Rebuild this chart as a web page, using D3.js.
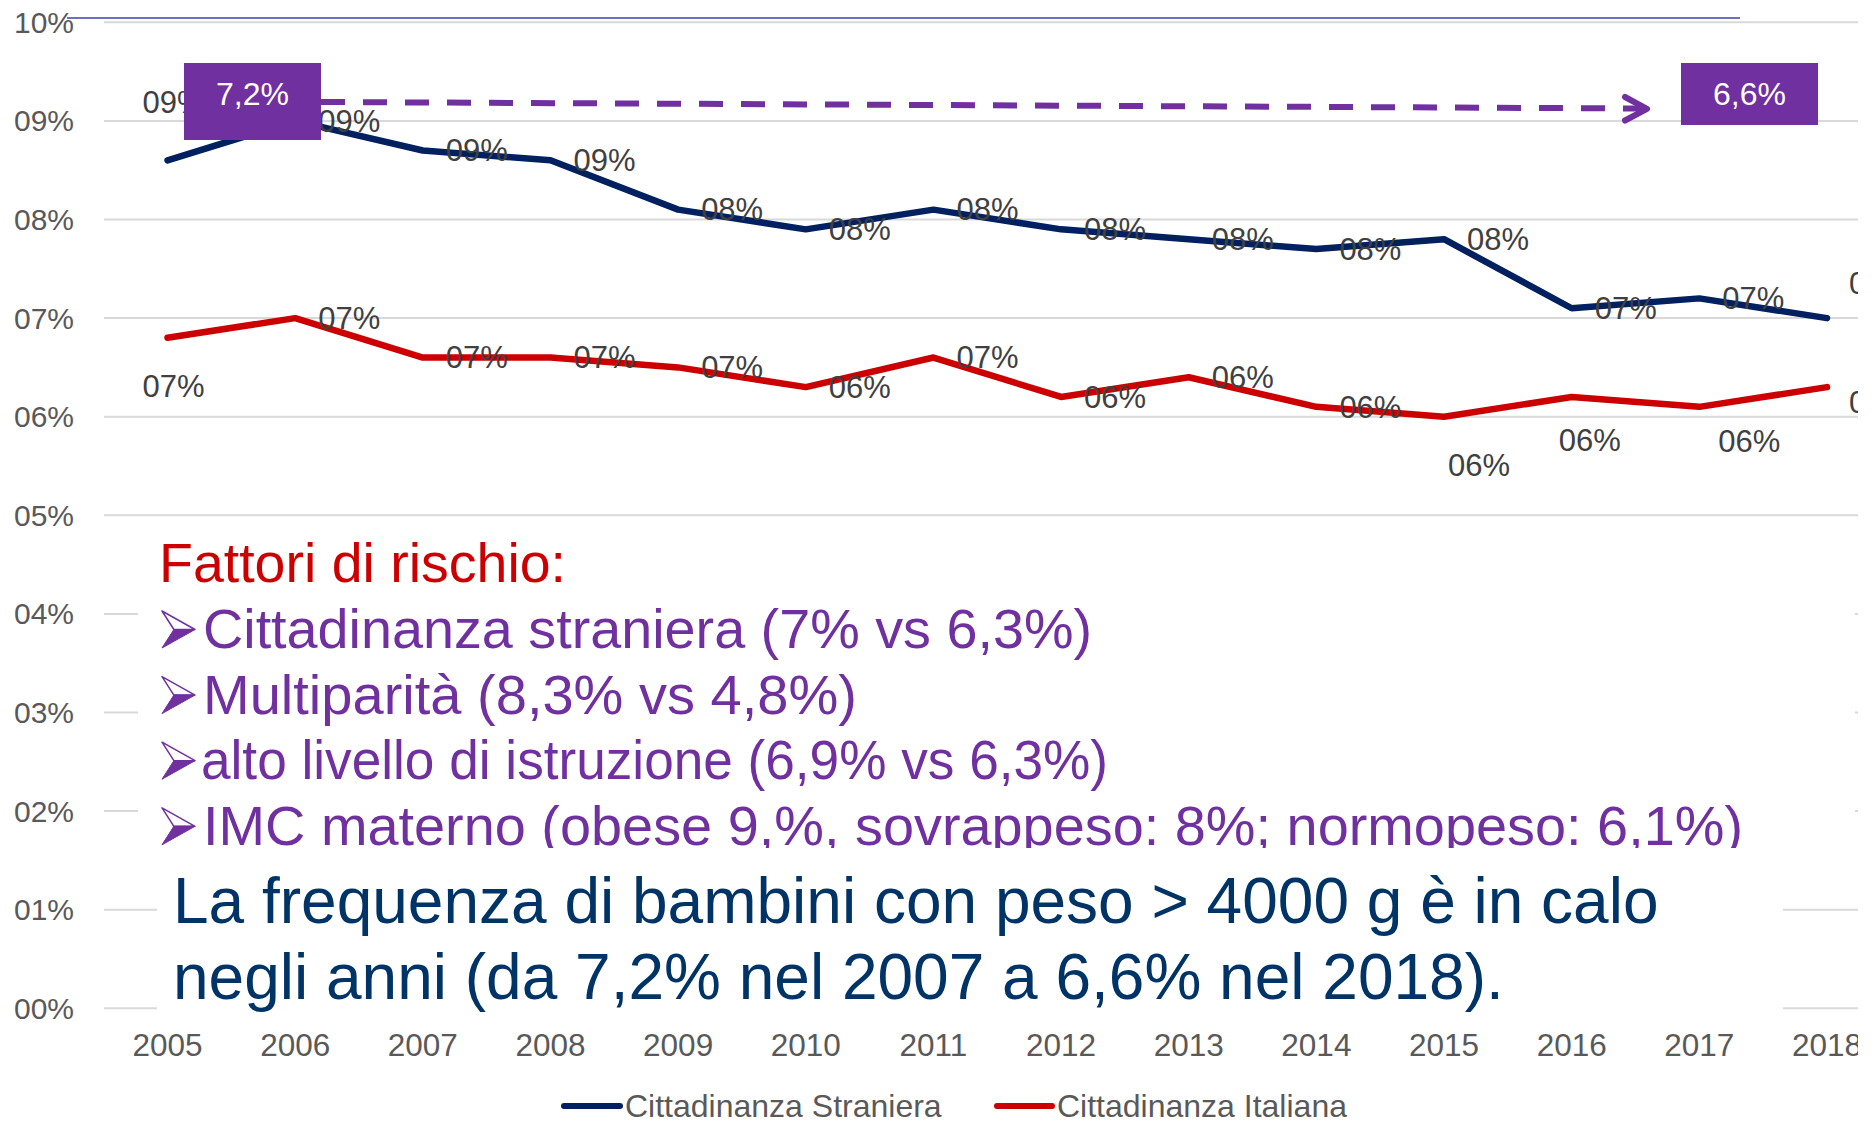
<!DOCTYPE html>
<html>
<head>
<meta charset="utf-8">
<script src="https://cdn.jsdelivr.net/npm/d3@7"></script>
<style>
  body { margin: 0; background: #fff; }
  svg { display: block; font-family: "Liberation Sans", Arial, sans-serif; }
</style>
</head>
<body>
<svg id="chart" width="1876" height="1121"></svg>
<script>
// data (percent)
var years = ["2005", "2006", "2007", "2008", "2009", "2010", "2011", "2012", "2013", "2014", "2015", "2016", "2017", "2018"];
var straniera = [8.6, 9.0, 8.7, 8.6, 8.1, 7.9, 8.1, 7.9, 7.8, 7.7, 7.8, 7.1, 7.2, 7.0];
var italiana = [6.8, 7.0, 6.6, 6.6, 6.5, 6.3, 6.6, 6.2, 6.4, 6.1, 6.0, 6.2, 6.1, 6.3];
var yTicks = [0, 1, 2, 3, 4, 5, 6, 7, 8, 9, 10];
var seriesNames = ["Cittadinanza Straniera", "Cittadinanza Italiana"];
var startNote = "7,2%";
var endNote = "6,6%";
var riskTitle = "Fattori di rischio:";
var riskItems = [
  "Cittadinanza straniera (7% vs 6,3%)",
  "Multiparità (8,3% vs 4,8%)",
  "alto livello di istruzione (6,9% vs 6,3%)",
  "IMC materno (obese 9,%, sovrappeso: 8%; normopeso: 6,1%)"
];
var summary = [
  "La frequenza di bambini con peso > 4000 g è in calo",
  "negli anni (da 7,2% nel 2007 a 6,6% nel 2018)."
];

// label placement tweaks (left edge dx, centre dy) - default is right of point
var blueShift = { "2005": [-25, -58], "2018": [22, -35] };
var redShift = { "2005": [-25, 48], "2015": [4, 48], "2016": [-13, 43], "2017": [19, 34], "2018": [22, 15] };
// rendered widths of the bullet lines in the original slide
var riskWidths = [889, 654, 907, 1540];

var purple = "#7030a0";
var svg = d3.select("#chart");

svg.append("clipPath").attr("id", "clip")
  .append("rect").attr("x", 0).attr("y", 0).attr("width", 1858).attr("height", 1121);

var g = svg.append("g").attr("clip-path", "url(#clip)");

var x = d3.scalePoint().domain(years).range([103.7, 1890.8]).padding(0.5);
var y = d3.scaleLinear().domain([0, 10]).range([1008.3, 22.3]);

function pct(v) {
  var r = Math.round(v);
  return (r < 10 ? "0" : "") + r + "%";
}

// gridlines
g.append("g").selectAll("line").data(yTicks).enter().append("line")
  .attr("x1", 104).attr("x2", 1858)
  .attr("y1", function(d) { return y(d); })
  .attr("y2", function(d) { return y(d); })
  .attr("stroke", "#d9d9d9").attr("stroke-width", 2);

// thin blue rule at the top
g.append("line")
  .attr("x1", 67).attr("x2", 1740).attr("y1", 18).attr("y2", 18)
  .attr("stroke", "#3f3fae").attr("stroke-width", 1.5);

// y axis labels
g.append("g").selectAll("text").data(yTicks).enter().append("text")
  .attr("x", 74).attr("y", function(d) { return y(d); })
  .attr("dy", "0.35em")
  .attr("text-anchor", "end")
  .attr("font-size", 30).attr("fill", "#595959")
  .text(pct);

// x axis labels
g.append("g").selectAll("text").data(years).enter().append("text")
  .attr("x", function(d) { return x(d); }).attr("y", 1045)
  .attr("dy", "0.35em")
  .attr("text-anchor", "middle")
  .attr("font-size", 31.5).attr("fill", "#595959")
  .text(function(d) { return d; });

var line = d3.line()
  .x(function(d, i) { return x(years[i]); })
  .y(function(d) { return y(d); });

var series = [
  { values: straniera, color: "#002060", shift: blueShift },
  { values: italiana, color: "#cc0000", shift: redShift }
];

series.forEach(function(s) {
  g.append("path")
    .datum(s.values)
    .attr("d", line)
    .attr("fill", "none")
    .attr("stroke", s.color)
    .attr("stroke-width", 6.5)
    .attr("stroke-linejoin", "round")
    .attr("stroke-linecap", "round");
});

series.forEach(function(s) {
  g.append("g").selectAll("text").data(s.values).enter().append("text")
    .attr("x", function(d, i) {
      var sh = s.shift[years[i]] || [23, 0];
      return x(years[i]) + sh[0];
    })
    .attr("y", function(d, i) {
      var sh = s.shift[years[i]] || [23, 0];
      return y(d) + sh[1];
    })
    .attr("dy", "0.35em")
    .attr("font-size", 31).attr("fill", "#404040")
    .text(pct);
});

// dashed arrow between the two notes
g.append("line")
  .attr("x1", 321).attr("y1", 102).attr("x2", 1643).attr("y2", 108.5)
  .attr("stroke", purple).attr("stroke-width", 6)
  .attr("stroke-dasharray", "24,18");
g.append("path")
  .attr("d", "M1625,97 L1647,108.8 L1625,120.5")
  .attr("fill", "none").attr("stroke", purple).attr("stroke-width", 6)
  .attr("stroke-linecap", "round").attr("stroke-linejoin", "round");

// note boxes
var notes = [
  { text: startNote, x0: 184, x1: 321, y0: 63, y1: 140 },
  { text: endNote, x0: 1681, x1: 1818, y0: 63, y1: 125 }
];
notes.forEach(function(n) {
  g.append("rect")
    .attr("x", n.x0).attr("y", n.y0)
    .attr("width", n.x1 - n.x0).attr("height", n.y1 - n.y0)
    .attr("fill", purple);
  g.append("text")
    .attr("x", (n.x0 + n.x1) / 2).attr("y", 94)
    .attr("dy", "0.35em")
    .attr("text-anchor", "middle")
    .attr("font-size", 32).attr("fill", "#fff")
    .text(n.text);
});

// risk factors text box
g.append("rect").attr("x", 138).attr("y", 530).attr("width", 1717).attr("height", 320).attr("fill", "#fff");
g.append("text")
  .attr("x", 159).attr("y", 582)
  .attr("font-size", 55).attr("fill", "#cc0000")
  .attr("textLength", 407).attr("lengthAdjust", "spacingAndGlyphs")
  .text(riskTitle);

riskItems.forEach(function(t, i) {
  var base = 648 + i * 65.6;
  var bx = 162, bt = base - 37, bw = 33, bh = 37;
  g.append("path")
    .attr("d", "M" + bx + "," + bt + " L" + (bx + bw) + "," + (bt + bh / 2) + " L" + (bx + bw * 0.36) + "," + (bt + bh / 2) + " Z")
    .attr("fill", "#fff").attr("stroke", purple).attr("stroke-width", 1.5).attr("stroke-linejoin", "round");
  g.append("path")
    .attr("d", "M" + (bx + bw * 0.36) + "," + (bt + bh / 2) + " L" + (bx + bw) + "," + (bt + bh / 2) + " L" + bx + "," + (bt + bh) + " Z")
    .attr("fill", purple).attr("stroke", purple).attr("stroke-width", 1).attr("stroke-linejoin", "round");
  g.append("text")
    .attr("x", i === 2 ? 201 : 203).attr("y", base)
    .attr("font-size", 55).attr("fill", purple)
    .attr("textLength", riskWidths[i]).attr("lengthAdjust", "spacingAndGlyphs")
    .text(t);
});

// summary text box (sits on top of the previous one)
g.append("rect").attr("x", 157).attr("y", 848).attr("width", 1626).attr("height", 170).attr("fill", "#fff");
summary.forEach(function(t, i) {
  g.append("text")
    .attr("x", 173).attr("y", 923 + i * 76)
    .attr("font-size", 64).attr("fill", "#003366")
    .text(t);
});

// legend
var legend = [
  { name: seriesNames[0], color: "#002060", x0: 564, x1: 620, tx: 625 },
  { name: seriesNames[1], color: "#cc0000", x0: 997, x1: 1052, tx: 1057 }
];
legend.forEach(function(l) {
  g.append("line")
    .attr("x1", l.x0).attr("x2", l.x1).attr("y1", 1106).attr("y2", 1106)
    .attr("stroke", l.color).attr("stroke-width", 6).attr("stroke-linecap", "round");
  g.append("text")
    .attr("x", l.tx).attr("y", 1106)
    .attr("dy", "0.35em")
    .attr("font-size", 32).attr("fill", "#595959")
    .text(l.name);
});
</script>
</body>
</html>
